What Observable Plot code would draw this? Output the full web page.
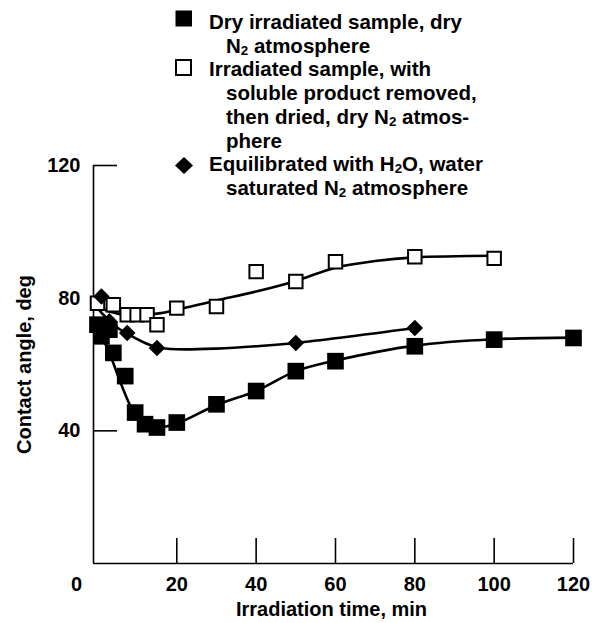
<!DOCTYPE html>
<html>
<head>
<meta charset="utf-8">
<script src="https://cdn.jsdelivr.net/npm/d3@7"></script>
<script src="https://cdn.jsdelivr.net/npm/@observablehq/plot@0.6"></script>
<style>
  html, body { margin: 0; padding: 0; background: #fff; }
  #wrap { position: relative; width: 603px; height: 623px; font-family: "Liberation Sans", Arial, sans-serif; font-weight: bold; color: #000; }
  #legend { position: absolute; left: 175px; top: 10px; font-size: 20.5px; line-height: 23.7px; white-space: nowrap; }
  .entry { position: relative; padding-left: 34px; }
  .entry .mk { position: absolute; left: 0; line-height: 0; }
  .entry .ln { display: block; }
  .entry .ind { padding-left: 17px; }
  sub { font-size: 65%; vertical-align: -2px; line-height: 0; }
</style>
</head>
<body>
<div id="wrap">
  <div id="chart"></div>
  <div id="legend"></div>
</div>
<script>
// ---- data ----
// Dry irradiated sample, dry N2 atmosphere (filled squares)
const dryX = [0, 1, 2, 3, 4, 7, 9.5, 12, 15, 20, 30, 40, 50, 60, 80, 100, 120];
const dryY = [72, 68.5, 71, 70.5, 63.5, 56.5, 45.5, 42, 41, 42.5, 48, 52, 58, 61, 65.5, 67.5, 68];
// smooth fitted curve drawn through the dry series
const dryFitX = [0, 3, 6, 9, 12, 15, 20, 30, 40, 50, 60, 80, 100, 120];
const dryFitY = [71, 63.5, 54, 46, 42, 41, 42.2, 47.8, 52, 58, 61.2, 65.7, 67.6, 68.1];

// Irradiated, soluble product removed, dried (open squares)
const openX = [0, 4, 7.5, 10, 12.5, 15, 20, 30, 40, 50, 60, 80, 100];
const openY = [78.5, 78, 75, 75, 75, 72, 77, 77.5, 88, 85, 91, 92.5, 92];
const openFitX = [0, 3, 7, 12, 16, 20, 30, 40, 50, 60, 70, 80, 100];
const openFitY = [77.5, 76, 75, 75, 75.5, 76.5, 79.3, 82, 85.2, 89.2, 91.2, 92.3, 92.8];

// Equilibrated with H2O, water saturated N2 (diamonds)
const diaX = [1, 3, 7.5, 15, 50, 80];
const diaY = [80.5, 73, 69.5, 65, 66.5, 71];
const diaFitX = [0, 4, 7.5, 12, 15, 20, 30, 40, 50, 80];
const diaFitY = [77, 72, 69.3, 66.5, 65.2, 64.6, 64.8, 65.5, 66.5, 71];

// axes
const xTicks = [20, 40, 60, 80, 100, 120];
const xZero = [0];
const yTicks = [40, 80, 120];
const xLabel = "Irradiation time, min";
const yLabel = "Contact angle, deg";

const legendEntries = [
  {sym: "filled", lines: ["Dry irradiated sample, dry", "N<sub>2</sub> atmosphere"]},
  {sym: "open", lines: ["Irradiated sample, with", "soluble product removed,", "then dried, dry N<sub>2</sub> atmos-", "phere"]},
  {sym: "diamond", lines: ["Equilibrated with H<sub>2</sub>O, water", "saturated N<sub>2</sub> atmosphere"]}
];

// ---- build ----
const toRows = (xs, ys) => xs.map((x, i) => ({x, y: ys[i]}));
const dry = toRows(dryX, dryY), dryFit = toRows(dryFitX, dryFitY);
const open = toRows(openX, openY), openFit = toRows(openFitX, openFitY);
const dia = toRows(diaX, diaY), diaFit = toRows(diaFitX, diaFitY);

const diamond = {
  draw(context, size) {
    const h = Math.sqrt(size / 2);
    context.moveTo(0, -h);
    context.lineTo(h, 0);
    context.lineTo(0, h);
    context.lineTo(-h, 0);
    context.closePath();
  }
};

const font = "Liberation Sans, Arial, sans-serif";
const chart = Plot.plot({
  width: 603,
  height: 623,
  marginLeft: 93,
  marginRight: 30,
  marginTop: 165,
  marginBottom: 60,
  x: {domain: [-1, 120], axis: null},
  y: {domain: [0, 120], axis: null},
  style: {fontFamily: font, fontWeight: "bold", fontSize: "20px", color: "#000", background: "transparent"},
  marks: [
    Plot.ruleX([-1], {stroke: "#000", strokeWidth: 1.6}),
    Plot.ruleY([0], {stroke: "#000", strokeWidth: 1.6}),
    Plot.axisY(yTicks, {label: null, tickSize: -24, tickFormat: () => "", strokeWidth: 1.6}),
    Plot.axisY(yTicks, {label: null, tickSize: 0, tickPadding: 13, fontSize: 20, fontWeight: "bold"}),
    Plot.axisX(xTicks, {label: null, tickSize: -25, tickFormat: () => "", strokeWidth: 1.6}),
    Plot.axisX(xTicks, {label: null, tickSize: 0, tickPadding: 13, fontSize: 20, fontWeight: "bold"}),
    Plot.axisX(xZero, {label: null, tickSize: 0, tickPadding: 13, dx: -21, fontSize: 20, fontWeight: "bold"}),
    Plot.text([yLabel], {frameAnchor: "left", textAnchor: "middle", lineAnchor: "middle", rotate: -90, dx: -69, fontSize: 20, fontWeight: "bold"}),
    Plot.text([xLabel], {frameAnchor: "bottom", textAnchor: "middle", lineAnchor: "middle", dy: 46, dx: -2, fontSize: 20, fontWeight: "bold"}),
    Plot.line(dryFit, {x: "x", y: "y", curve: "catmull-rom", stroke: "#000", strokeWidth: 2.6}),
    Plot.line(openFit, {x: "x", y: "y", curve: "catmull-rom", stroke: "#000", strokeWidth: 2.6}),
    Plot.line(diaFit, {x: "x", y: "y", curve: "catmull-rom", stroke: "#000", strokeWidth: 2.6}),
    Plot.dot(open, {x: "x", y: "y", symbol: "square", r: 7.6, fill: "#fff", stroke: "#000", strokeWidth: 2}),
    Plot.dot(dia, {x: "x", y: "y", symbol: diamond, r: 6.6, fill: "#000", stroke: "none"}),
    Plot.dot(dry, {x: "x", y: "y", symbol: "square", r: 9.4, fill: "#000", stroke: "none"})
  ]
});
document.getElementById("chart").appendChild(chart);

// legend
const markers = {
  filled: {top: 0, svg: '<svg width="18" height="18"><rect x="0.5" y="0.5" width="16.5" height="16" fill="#000"/></svg>'},
  open: {top: 1.5, svg: '<svg width="18" height="18"><rect x="1" y="1" width="15" height="15" fill="#fff" stroke="#000" stroke-width="2"/></svg>'},
  diamond: {top: 4.5, svg: '<svg width="19" height="18"><path d="M9,0 L18,8.5 L9,17 L0,8.5 Z" fill="#000"/></svg>'}
};
const legend = document.getElementById("legend");
legendEntries.forEach(e => {
  const div = document.createElement("div");
  div.className = "entry";
  const m = markers[e.sym];
  div.innerHTML = `<span class="mk" style="top:${m.top}px">${m.svg}</span>` +
    e.lines.map((l, i) => `<span class="ln${i ? " ind" : ""}">${l}</span>`).join("");
  legend.appendChild(div);
});
</script>
</body>
</html>
